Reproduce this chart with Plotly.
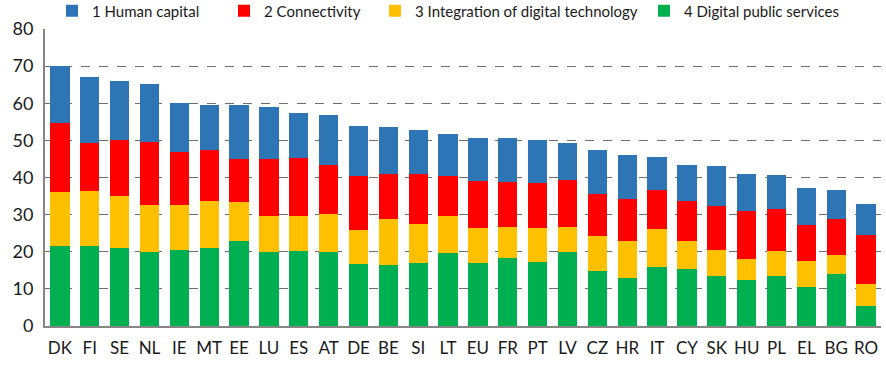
import plotly.graph_objects as go

countries = ["DK", "FI", "SE", "NL", "IE", "MT", "EE", "LU", "ES", "AT", "DE", "BE", "SI", "LT",
             "EU", "FR", "PT", "LV", "CZ", "HR", "IT", "CY", "SK", "HU", "PL", "EL", "BG", "RO"]

human_capital = [15.2, 17.7, 16.0, 15.6, 13.4, 12.2, 14.5, 14.0, 12.0, 13.3, 13.6, 12.6, 11.8, 11.4,
                 11.7, 11.9, 11.5, 10.0, 11.7, 11.7, 8.9, 9.8, 10.8, 9.9, 9.3, 10.1, 7.9, 8.4]
connectivity = [18.7, 12.9, 14.9, 17.0, 14.2, 13.5, 11.7, 15.4, 15.7, 13.3, 14.5, 12.0, 13.3, 10.7,
                12.7, 12.0, 12.2, 12.7, 11.4, 11.3, 10.6, 10.6, 11.7, 13.0, 11.3, 9.6, 9.6, 13.2]
integration = [14.5, 14.8, 14.1, 12.7, 12.0, 12.8, 10.3, 9.7, 9.4, 10.3, 9.1, 12.5, 10.7, 10.0,
               9.4, 8.5, 9.1, 6.7, 9.5, 10.1, 10.2, 7.6, 7.2, 5.8, 6.6, 7.0, 5.2, 6.0]
public_services = [21.6, 21.6, 21.0, 19.9, 20.6, 21.0, 23.0, 19.9, 20.2, 19.9, 16.7, 16.4, 16.9, 19.6,
                   16.9, 18.3, 17.2, 19.9, 14.7, 12.9, 15.8, 15.4, 13.4, 12.3, 13.6, 10.5, 13.9, 5.3]

series = [
    ("4 Digital public services", public_services, "#00B050", "legend4"),
    ("3 Integration of digital technology", integration, "#FFC000", "legend3"),
    ("2 Connectivity", connectivity, "#FF0000", "legend2"),
    ("1 Human capital", human_capital, "#2E75B6", "legend"),
]

fig = go.Figure()
for name, vals, color, leg in series:
    fig.add_trace(go.Bar(x=countries, y=vals, name=name, legend=leg,
                         marker=dict(color=color, line=dict(width=0))))

font_family = "Lato, 'Open Sans', sans-serif"
W = 886.0
H = 366.0
legend_px = {"legend": 52, "legend2": 224, "legend3": 375, "legend4": 644}
legend_common = dict(orientation="h", xanchor="left", yref="container", y=1 - 11 / H, yanchor="middle",
                     font=dict(size=15, family=font_family, color="#1a1a1a"), itemwidth=30,
                     bgcolor="rgba(0,0,0,0)", xref="container")
layout_legends = {k: dict(legend_common, x=v / W) for k, v in legend_px.items()}

fig.update_layout(
    barmode="stack",
    bargap=0.35,
    width=886, height=366,
    margin=dict(l=45, r=5, t=29, b=40, autoexpand=False),
    paper_bgcolor="white", plot_bgcolor="white",
    font=dict(family=font_family, color="#1a1a1a"),
    showlegend=True,
    **layout_legends,
)
fig.update_xaxes(showline=True, linecolor="#868686", linewidth=2, ticks="", tickfont=dict(size=17),
                 showgrid=False, ticklabelstandoff=6, automargin=False)
fig.update_yaxes(range=[0, 80], dtick=10, showline=True, linecolor="#868686", linewidth=2,
                 showgrid=True, gridcolor="#6e6e6e", griddash="dash", gridwidth=1,
                 tickfont=dict(size=18), ticks="", ticklabelstandoff=6,
                 zeroline=False, automargin=False)

fig.write_html("out.html", config={"displayModeBar": False},
               post_script="document.body.style.margin='0';document.body.style.overflow='hidden';")
